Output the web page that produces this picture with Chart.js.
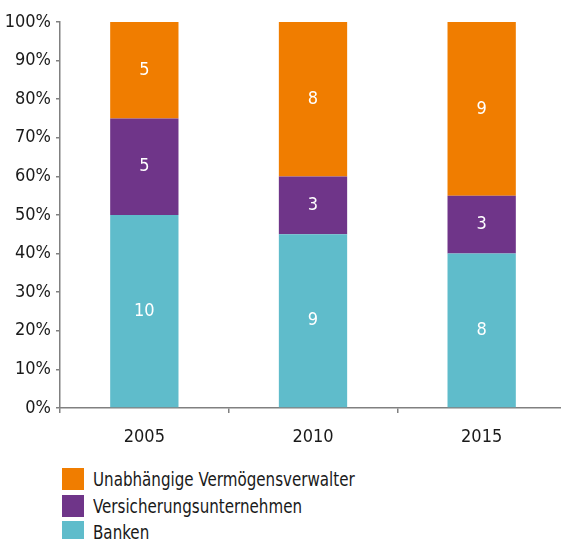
<!DOCTYPE html>
<html>
<head>
<meta charset="utf-8">
<script src="https://cdn.jsdelivr.net/npm/chart.js@4/dist/chart.umd.min.js"></script>
<style>
  html, body { margin: 0; padding: 0; background: #fff; overflow: hidden; }
  #wrap { position: relative; width: 566px; height: 460px; }
  #legend { position: absolute; left: 62px; top: 466px; font-family: "DejaVu Sans Condensed", "Liberation Sans Narrow", sans-serif; font-size: 20px; color: #1a1a1a; white-space: nowrap; }
  #legend div { height: 26.5px; display: flex; align-items: center; }
  #legend span.box { display: inline-block; width: 22px; height: 22px; margin-right: 9px; flex: none; }
  #legend span.txt { display: inline-block; transform: scaleX(0.84); transform-origin: left center; }
</style>
</head>
<body>
<div id="wrap"><canvas id="myChart"></canvas></div>
<div id="legend"></div>
<script>
var years = ["2005", "2010", "2015"];
var banken = [10, 9, 8];
var versicherungen = [5, 3, 3];
var vermoegensverwalter = [5, 8, 9];
var yTicks = [0, 10, 20, 30, 40, 50, 60, 70, 80, 90, 100];

var FONT = '"DejaVu Sans Condensed", "Liberation Sans Narrow", sans-serif';

function share(list, i){
  var total = banken[i] + versicherungen[i] + vermoegensverwalter[i];
  return list[i] / total * 100;
}
function shares(list){
  return list.map(function(v, i){ return share(list, i); });
}

// Werte in die Balken schreiben
var valueLabels = {
  id: 'valueLabels',
  afterDatasetsDraw: function(chart){
    var ctx = chart.ctx;
    ctx.save();
    ctx.fillStyle = '#fff';
    ctx.font = '18px ' + FONT;
    ctx.textAlign = 'center';
    ctx.textBaseline = 'middle';
    chart.data.datasets.forEach(function(ds, d){
      chart.getDatasetMeta(d).data.forEach(function(bar, i){
        var p = bar.getCenterPoint();
        ctx.fillText(String(ds.counts[i]), p.x, p.y);
      });
    });
    ctx.restore();
  }
};

var ctx = document.getElementById("myChart");
var myChart = new Chart(ctx, {
  type: 'bar',
  data: {
    labels: years,
    datasets: [
      { label: 'Banken', counts: banken, data: shares(banken), backgroundColor: '#5fbccb' },
      { label: 'Versicherungsunternehmen', counts: versicherungen, data: shares(versicherungen), backgroundColor: '#6f3589' },
      { label: 'Unabhängige Vermögensverwalter', counts: vermoegensverwalter, data: shares(vermoegensverwalter), backgroundColor: '#f07d00' }
    ]
  },
  options: {
    responsive: true,
    maintainAspectRatio: false,
    animation: false,
    layout: { padding: { top: 22, left: 0, right: 0, bottom: 0 } },
    datasets: { bar: { barPercentage: 1, categoryPercentage: 0.405 } },
    plugins: {
      legend: { display: false },
      tooltip: { enabled: false }
    },
    scales: {
      x: {
        stacked: true,
        grid: { drawOnChartArea: false, tickLength: 5, color: '#808080', lineWidth: 1.5 },
        border: { color: '#808080', width: 1.5 },
        ticks: { color: '#1a1a1a', font: { family: FONT, size: 18 }, padding: 14 },
        afterFit: function(s){ s.height = 52; }
      },
      y: {
        stacked: true,
        min: 0,
        max: 100,
        afterBuildTicks: function(s){ s.ticks = yTicks.map(function(v){ return { value: v }; }); },
        grid: { drawOnChartArea: false, tickLength: 4, color: '#808080', lineWidth: 1.5 },
        border: { color: '#808080', width: 1.5 },
        ticks: {
          color: '#1a1a1a',
          font: { family: FONT, size: 18 },
          padding: 5,
          callback: function(v){ return v + '%'; }
        },
        afterFit: function(s){ s.width = 60; }
      }
    }
  },
  plugins: [valueLabels]
});

// Legende (umgekehrte Reihenfolge wie im Stapel)
var legend = document.getElementById('legend');
myChart.data.datasets.slice().reverse().forEach(function(ds){
  var row = document.createElement('div');
  var box = document.createElement('span');
  box.className = 'box';
  box.style.background = ds.backgroundColor;
  var txt = document.createElement('span');
  txt.className = 'txt';
  txt.textContent = ds.label;
  row.appendChild(box);
  row.appendChild(txt);
  legend.appendChild(row);
});
</script>
</body>
</html>
